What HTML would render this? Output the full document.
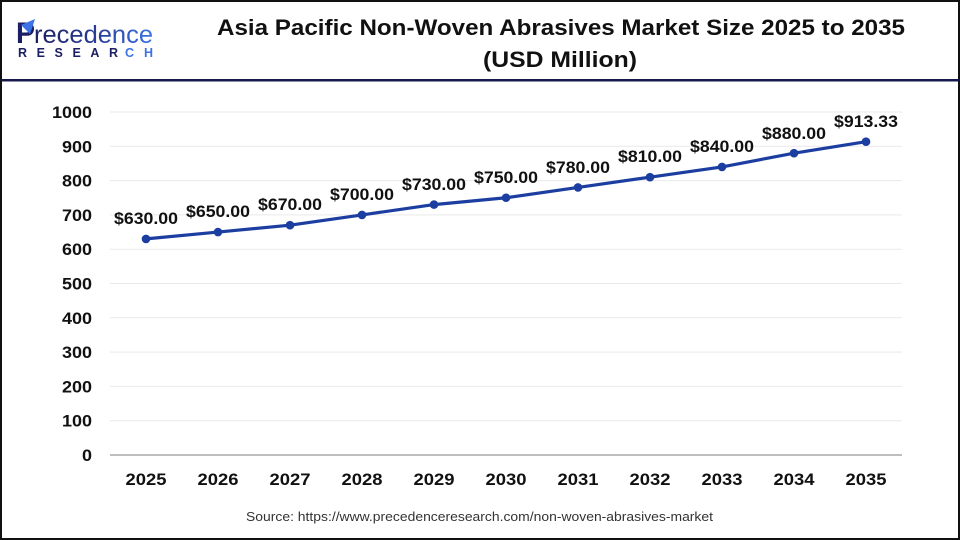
<!DOCTYPE html>
<html>
<head>
<meta charset="utf-8">
<style>
  html,body{margin:0;padding:0;background:#fff;}
  body{width:960px;height:540px;overflow:hidden;}
  svg{display:block;}
  text{font-family:"Liberation Sans",Arial,sans-serif;}
</style>
</head>
<body>
<svg width="960" height="540" viewBox="0 0 960 540" xmlns="http://www.w3.org/2000/svg">
  <defs>
    <linearGradient id="lg" x1="0" x2="1" y1="0" y2="0">
      <stop offset="0" stop-color="#1c1f63"/>
      <stop offset="0.55" stop-color="#2a3f9a"/>
      <stop offset="1" stop-color="#3b73e6"/>
    </linearGradient>
  </defs>
  <rect x="0" y="0" width="960" height="540" fill="#fff"/>
  <!-- outer border -->
  <rect x="1" y="1" width="958" height="538" fill="none" stroke="#111" stroke-width="2"/>
  <!-- header divider -->
  <rect x="1" y="79" width="958" height="2.5" fill="#14184a"/>

  <!-- logo -->
  <g>
    <text x="16" y="43" font-size="30" font-weight="bold" fill="#1c1f63" textLength="19" lengthAdjust="spacingAndGlyphs">P</text>
    <path d="M21 25 L35 19 L30 34 Z" fill="#3b73e6"/>
    <text x="34" y="43" font-size="25" fill="url(#lg)" textLength="119" lengthAdjust="spacingAndGlyphs">recedence</text>
    <text x="18" y="57" font-size="12.5" font-weight="bold" fill="#1c1f63" textLength="100" lengthAdjust="spacing">RESEAR</text>
    <text x="125" y="57" font-size="12.5" font-weight="bold" fill="#3b73e6" textLength="28" lengthAdjust="spacing">CH</text>
  </g>

  <!-- title -->
  <text x="217" y="35" font-size="22.5" font-weight="bold" fill="#111" textLength="688" lengthAdjust="spacingAndGlyphs">Asia Pacific Non-Woven Abrasives Market Size 2025 to 2035</text>
  <text x="483" y="67" font-size="22.5" font-weight="bold" fill="#111" textLength="154" lengthAdjust="spacingAndGlyphs">(USD Million)</text>

  <!-- gridlines -->
  <g stroke="#e9e9e9" stroke-width="1">
    <line x1="110" x2="902" y1="112" y2="112"/>
    <line x1="110" x2="902" y1="146.3" y2="146.3"/>
    <line x1="110" x2="902" y1="180.6" y2="180.6"/>
    <line x1="110" x2="902" y1="214.9" y2="214.9"/>
    <line x1="110" x2="902" y1="249.2" y2="249.2"/>
    <line x1="110" x2="902" y1="283.5" y2="283.5"/>
    <line x1="110" x2="902" y1="317.8" y2="317.8"/>
    <line x1="110" x2="902" y1="352.1" y2="352.1"/>
    <line x1="110" x2="902" y1="386.4" y2="386.4"/>
    <line x1="110" x2="902" y1="420.7" y2="420.7"/>
  </g>
  <line x1="110" x2="902" y1="455" y2="455" stroke="#bfbfbf" stroke-width="2"/>

  <!-- y labels -->
  <g font-size="16.5" font-weight="bold" fill="#111" text-anchor="end" lengthAdjust="spacingAndGlyphs">
    <text x="92" y="118" textLength="40" lengthAdjust="spacingAndGlyphs">1000</text>
    <text x="92" y="152.3" textLength="30" lengthAdjust="spacingAndGlyphs">900</text>
    <text x="92" y="186.6" textLength="30" lengthAdjust="spacingAndGlyphs">800</text>
    <text x="92" y="220.9" textLength="30" lengthAdjust="spacingAndGlyphs">700</text>
    <text x="92" y="255.2" textLength="30" lengthAdjust="spacingAndGlyphs">600</text>
    <text x="92" y="289.5" textLength="30" lengthAdjust="spacingAndGlyphs">500</text>
    <text x="92" y="323.8" textLength="30" lengthAdjust="spacingAndGlyphs">400</text>
    <text x="92" y="358.1" textLength="30" lengthAdjust="spacingAndGlyphs">300</text>
    <text x="92" y="392.4" textLength="30" lengthAdjust="spacingAndGlyphs">200</text>
    <text x="92" y="426.7" textLength="30" lengthAdjust="spacingAndGlyphs">100</text>
    <text x="92" y="461" textLength="10" lengthAdjust="spacingAndGlyphs">0</text>
  </g>

  <!-- x labels -->
  <g font-size="16.5" font-weight="bold" fill="#111" text-anchor="middle">
    <text x="146" y="485" textLength="41" lengthAdjust="spacingAndGlyphs">2025</text>
    <text x="218" y="485" textLength="41" lengthAdjust="spacingAndGlyphs">2026</text>
    <text x="290" y="485" textLength="41" lengthAdjust="spacingAndGlyphs">2027</text>
    <text x="362" y="485" textLength="41" lengthAdjust="spacingAndGlyphs">2028</text>
    <text x="434" y="485" textLength="41" lengthAdjust="spacingAndGlyphs">2029</text>
    <text x="506" y="485" textLength="41" lengthAdjust="spacingAndGlyphs">2030</text>
    <text x="578" y="485" textLength="41" lengthAdjust="spacingAndGlyphs">2031</text>
    <text x="650" y="485" textLength="41" lengthAdjust="spacingAndGlyphs">2032</text>
    <text x="722" y="485" textLength="41" lengthAdjust="spacingAndGlyphs">2033</text>
    <text x="794" y="485" textLength="41" lengthAdjust="spacingAndGlyphs">2034</text>
    <text x="866" y="485" textLength="41" lengthAdjust="spacingAndGlyphs">2035</text>
  </g>

  <!-- series -->
  <polyline fill="none" stroke="#1c3ea0" stroke-width="3.2" stroke-linejoin="round"
    points="146,238.9 218,232.05 290,225.2 362,214.9 434,204.6 506,197.75 578,187.45 650,177.15 722,166.9 794,153.15 866,141.7"/>
  <g fill="#1c3ea0">
    <circle cx="146" cy="238.9" r="4.3"/>
    <circle cx="218" cy="232.05" r="4.3"/>
    <circle cx="290" cy="225.2" r="4.3"/>
    <circle cx="362" cy="214.9" r="4.3"/>
    <circle cx="434" cy="204.6" r="4.3"/>
    <circle cx="506" cy="197.75" r="4.3"/>
    <circle cx="578" cy="187.45" r="4.3"/>
    <circle cx="650" cy="177.15" r="4.3"/>
    <circle cx="722" cy="166.9" r="4.3"/>
    <circle cx="794" cy="153.15" r="4.3"/>
    <circle cx="866" cy="141.7" r="4.3"/>
  </g>

  <!-- data labels -->
  <g font-size="16.5" font-weight="bold" fill="#111" text-anchor="middle">
    <text x="146" y="224" textLength="64" lengthAdjust="spacingAndGlyphs">$630.00</text>
    <text x="218" y="217" textLength="64" lengthAdjust="spacingAndGlyphs">$650.00</text>
    <text x="290" y="210" textLength="64" lengthAdjust="spacingAndGlyphs">$670.00</text>
    <text x="362" y="200" textLength="64" lengthAdjust="spacingAndGlyphs">$700.00</text>
    <text x="434" y="190" textLength="64" lengthAdjust="spacingAndGlyphs">$730.00</text>
    <text x="506" y="183" textLength="64" lengthAdjust="spacingAndGlyphs">$750.00</text>
    <text x="578" y="173" textLength="64" lengthAdjust="spacingAndGlyphs">$780.00</text>
    <text x="650" y="162" textLength="64" lengthAdjust="spacingAndGlyphs">$810.00</text>
    <text x="722" y="152" textLength="64" lengthAdjust="spacingAndGlyphs">$840.00</text>
    <text x="794" y="139" textLength="64" lengthAdjust="spacingAndGlyphs">$880.00</text>
    <text x="866" y="127" textLength="64" lengthAdjust="spacingAndGlyphs">$913.33</text>
  </g>

  <!-- source -->
  <text x="246" y="521" font-size="13" fill="#333" textLength="467" lengthAdjust="spacingAndGlyphs">Source: https://www.precedenceresearch.com/non-woven-abrasives-market</text>
</svg>
</body>
</html>
